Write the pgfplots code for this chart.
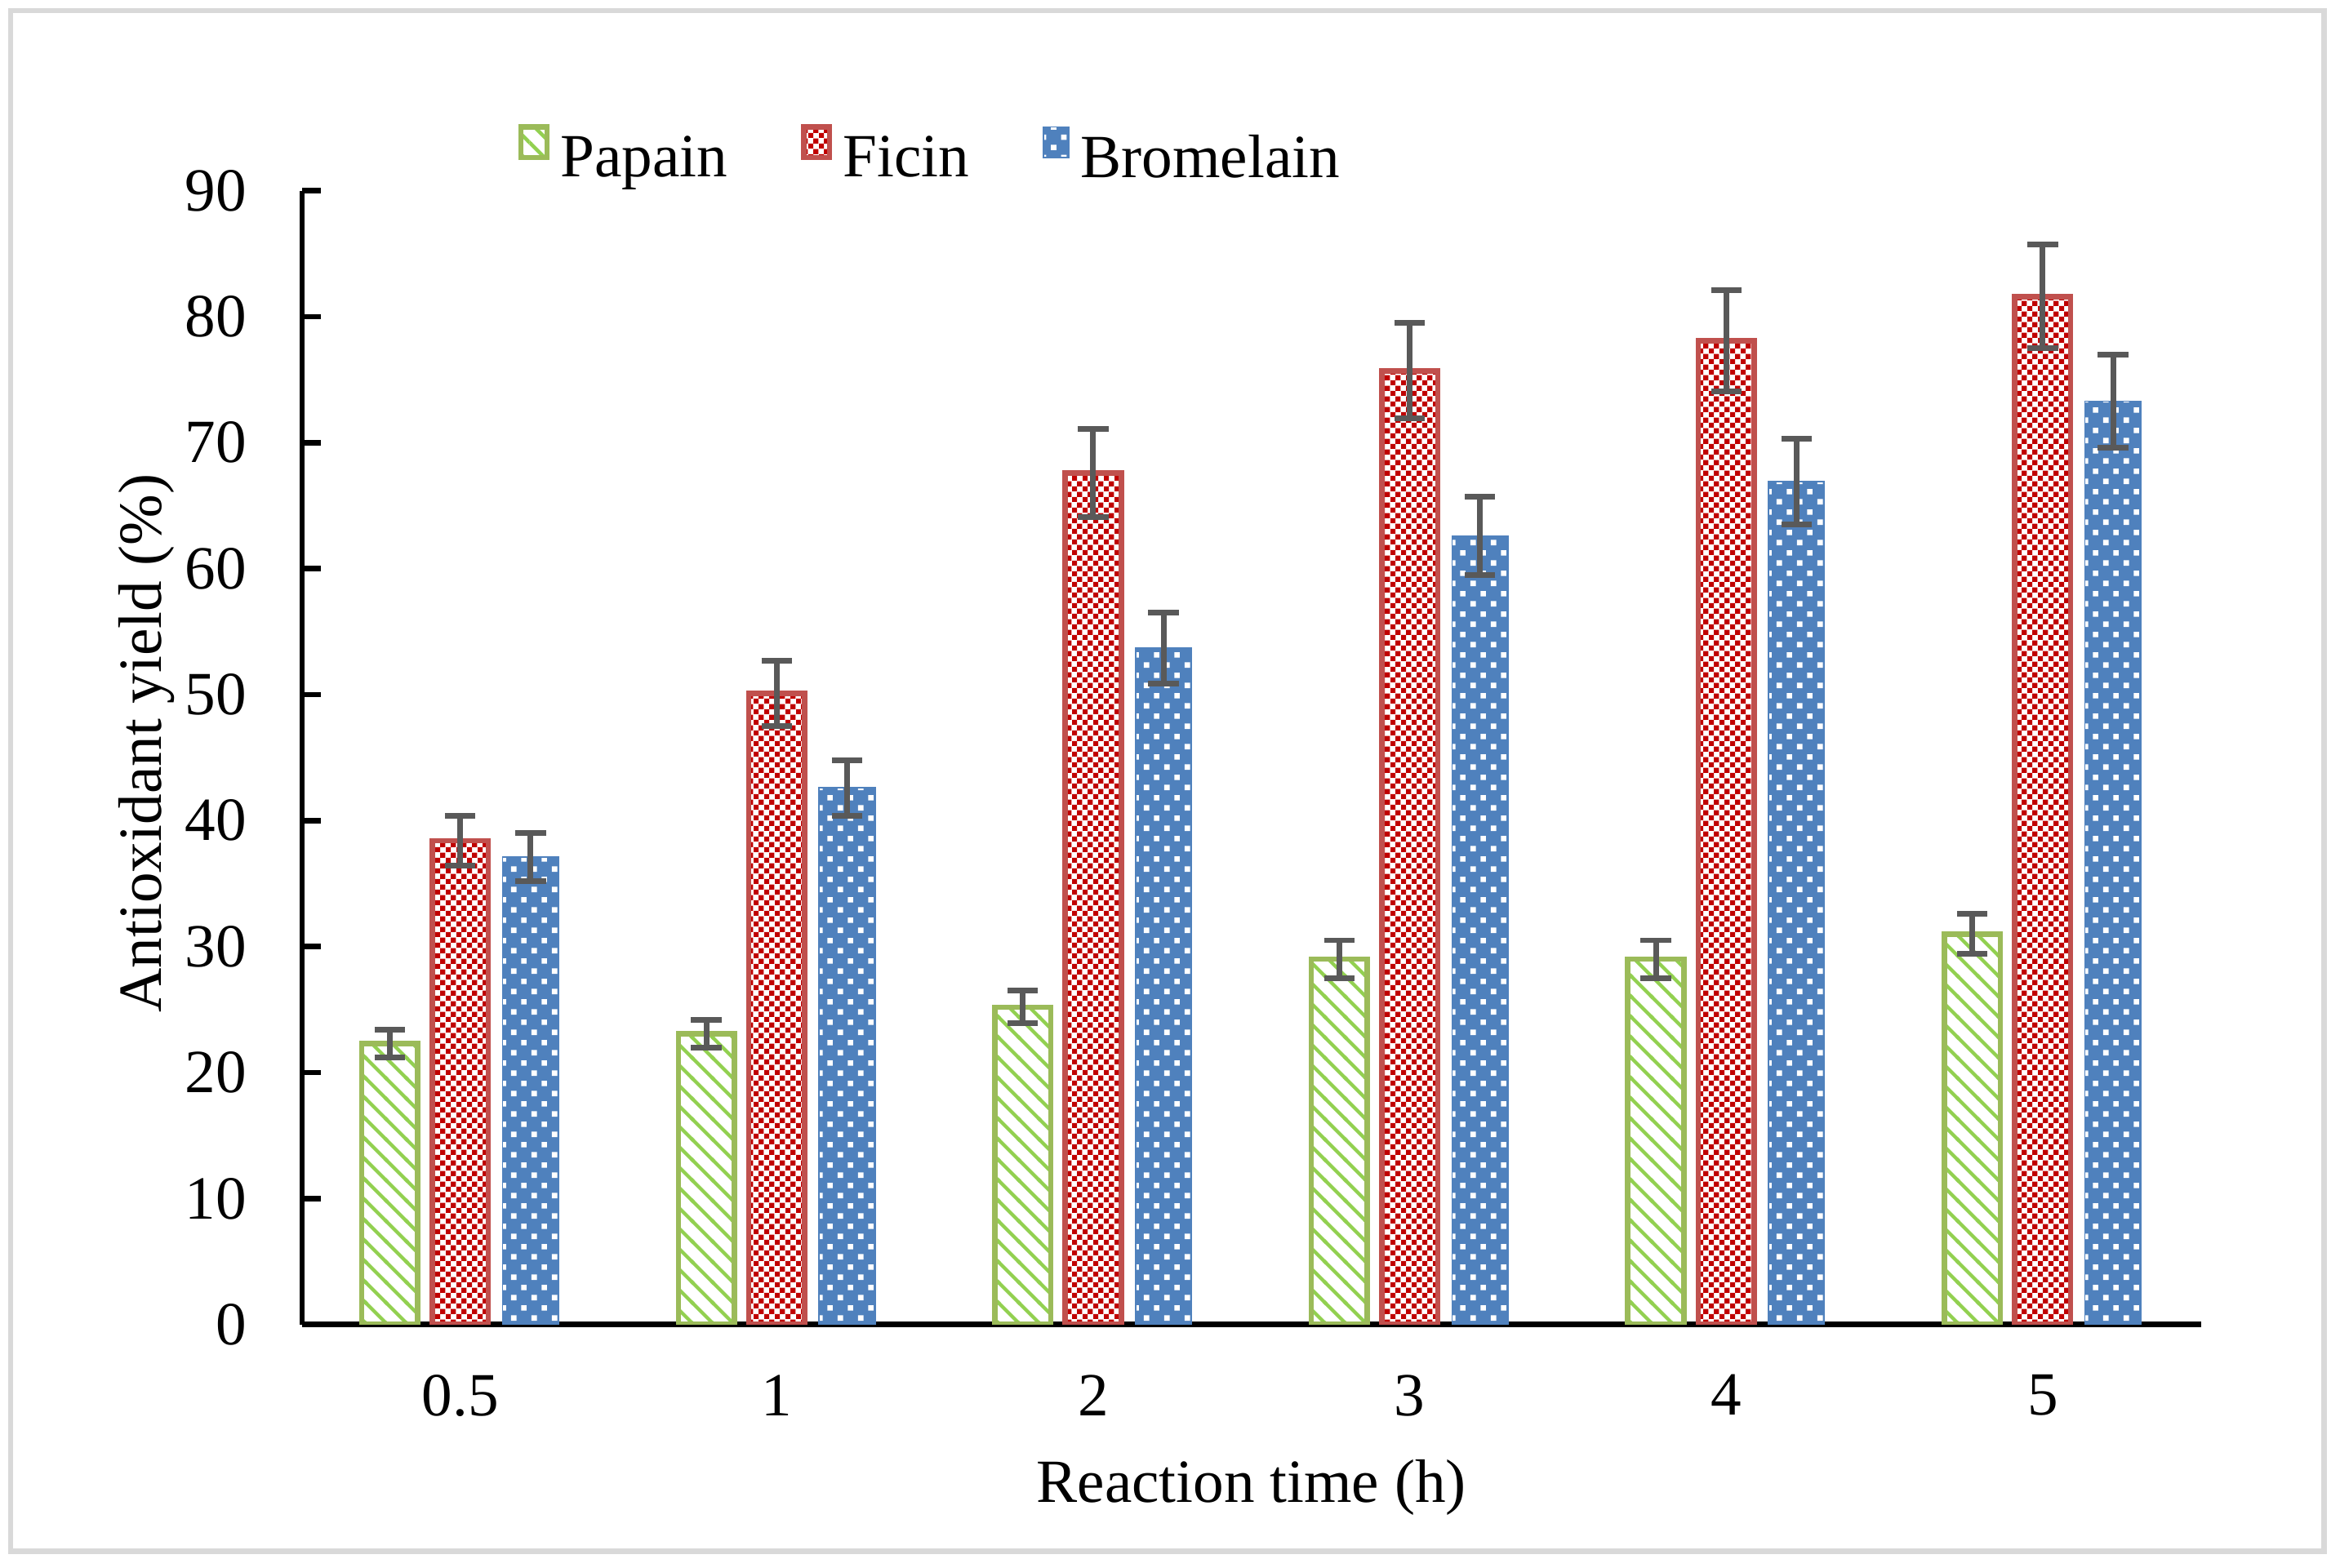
\documentclass[border=0pt]{standalone}
\usepackage{fontspec}
\setmainfont{Liberation Serif}
\usepackage{pgfplots}
\pgfplotsset{compat=1.18}
\usepackage{pgfplotstable}
\usetikzlibrary{patterns.meta}

\definecolor{papainedge}{HTML}{9BBB59}
\definecolor{papainline}{HTML}{92D050}
\definecolor{ficinedge}{HTML}{C0504D}
\definecolor{ficincheck}{HTML}{C00000}
\definecolor{bromblue}{HTML}{4F81BD}
\definecolor{errgray}{HTML}{595959}
\definecolor{framegray}{HTML}{D9D9D9}

\tikzdeclarepattern{
  name=mylines,
  type=uncolored,
  bottom left={(0pt,0pt)},
  top right={(6.8pt,6.8pt)},
  tile size={(6.8pt,6.8pt)},
  code={
    \pgfsetlinewidth{1.2pt}
    \pgfpathmoveto{\pgfqpoint{-1pt}{7.8pt}}
    \pgfpathlineto{\pgfqpoint{7.8pt}{-1pt}}
    \pgfpathmoveto{\pgfqpoint{-1pt}{1pt}}
    \pgfpathlineto{\pgfqpoint{1pt}{-1pt}}
    \pgfpathmoveto{\pgfqpoint{5.8pt}{7.8pt}}
    \pgfpathlineto{\pgfqpoint{7.8pt}{5.8pt}}
    \pgfusepath{stroke}
  }
}
\tikzdeclarepattern{
  name=mycheck,
  type=uncolored,
  bottom left={(0pt,0pt)},
  top right={(3.46pt,3.46pt)},
  tile size={(3.46pt,3.46pt)},
  code={
    \pgfpathrectangle{\pgfqpoint{0pt}{0pt}}{\pgfqpoint{1.73pt}{1.73pt}}
    \pgfpathrectangle{\pgfqpoint{1.73pt}{1.73pt}}{\pgfqpoint{1.73pt}{1.73pt}}
    \pgfusepath{fill}
  }
}
\tikzdeclarepattern{
  name=mydots,
  type=uncolored,
  bottom left={(0pt,0pt)},
  top right={(6.8pt,6.8pt)},
  tile size={(6.8pt,6.8pt)},
  code={
    \pgfpathrectangle{\pgfqpoint{0.8pt}{0.8pt}}{\pgfqpoint{1.8pt}{1.8pt}}
    \pgfpathrectangle{\pgfqpoint{4.2pt}{4.2pt}}{\pgfqpoint{1.8pt}{1.8pt}}
    \pgfusepath{fill}
  }
}

\pgfplotstableread{
x pa pae fi fie br bre
0 22.3 1.1 38.4 2.0 37.1 1.9
1 23.1 1.1 50.1 2.6 42.6 2.2
2 25.2 1.3 67.6 3.5 53.7 2.8
3 29.0 1.5 75.7 3.8 62.6 3.1
4 29.0 1.5 78.1 4.0 66.9 3.4
5 31.0 1.6 81.6 4.1 73.3 3.7
}\datatable

\begin{document}
\fontsize{20.5}{24.6}\selectfont
\begin{tikzpicture}
\path[use as bounding box] (-100.85pt,-81.05pt) rectangle (680.65pt,442.5pt);
\draw[framegray, line width=1.9pt] (-97.3pt,-75.65pt) rectangle (675.45pt,438.95pt);
\begin{axis}[
  at={(0pt,0pt)}, anchor=south west,
  scale only axis,
  width=634.2pt, height=378.8pt,
  axis lines*=left,
  axis line style={line width=1.8pt, black},
  ybar,
  bar width=18.7pt,
  xmin=-0.5, xmax=5.5,
  ymin=0, ymax=90,
  xtick={0,1,2,3,4,5},
  xticklabels={0.5,1,2,3,4,5},
  ytick={0,10,20,30,40,50,60,70,80,90},
  xtick style={draw=none},
  ytick style={line width=1.8pt, black},
  tick align=inside,
  major tick length=6.2pt,
  /pgf/number format/assume math mode=true,
  yticklabel style={xshift=-11.5pt},
  xticklabel style={yshift=-9.8pt},
  xlabel={Reaction time (h)},
  ylabel={Antioxidant yield (\%)},
  xlabel style={at={(axis description cs:0.5,-0.15708)}, anchor=base},
  ylabel style={at={(axis description cs:-0.07411,0.5128)}, anchor=base, rotate=0},
  legend columns=-1,
  legend style={
    draw=none, fill=none, inner sep=0pt,
    at={(axis description cs:0.1136,1.0309)}, anchor=west,
    nodes={inner sep=0pt},
    /tikz/every odd column/.append style={column sep=3.6pt},
    /tikz/every even column/.append style={column sep=24.5pt},
  },
  legend image code/.code={\draw[#1] (0pt,1.2pt) rectangle (8.7pt,11.4pt);},
  error bars/y dir=both,
  error bars/y explicit,
  error bars/error bar style={line width=1.9pt, draw=errgray, fill=none, solid},
  error bars/error mark options={rotate=90, line width=1.9pt, draw=errgray, fill=none, mark size=5.1pt},
]
\addplot[bar shift=-23.5pt, draw=papainedge, line width=1.8pt, pattern=mylines, pattern color=papainline]
  table[x=x, y=pa, y error=pae] {\datatable};
\addplot[bar shift=0pt, draw=ficinedge, line width=1.8pt, pattern=mycheck, pattern color=ficincheck]
  table[x=x, y=fi, y error=fie] {\datatable};
\addplot[bar shift=23.5pt, draw=bromblue, line width=0.4pt, fill=bromblue, postaction={pattern=mydots, pattern color=white}]
  table[x=x, y=br, y error=bre] {\datatable};
\legend{Papain, Ficin, Bromelain}
\end{axis}
\end{tikzpicture}
\end{document}
